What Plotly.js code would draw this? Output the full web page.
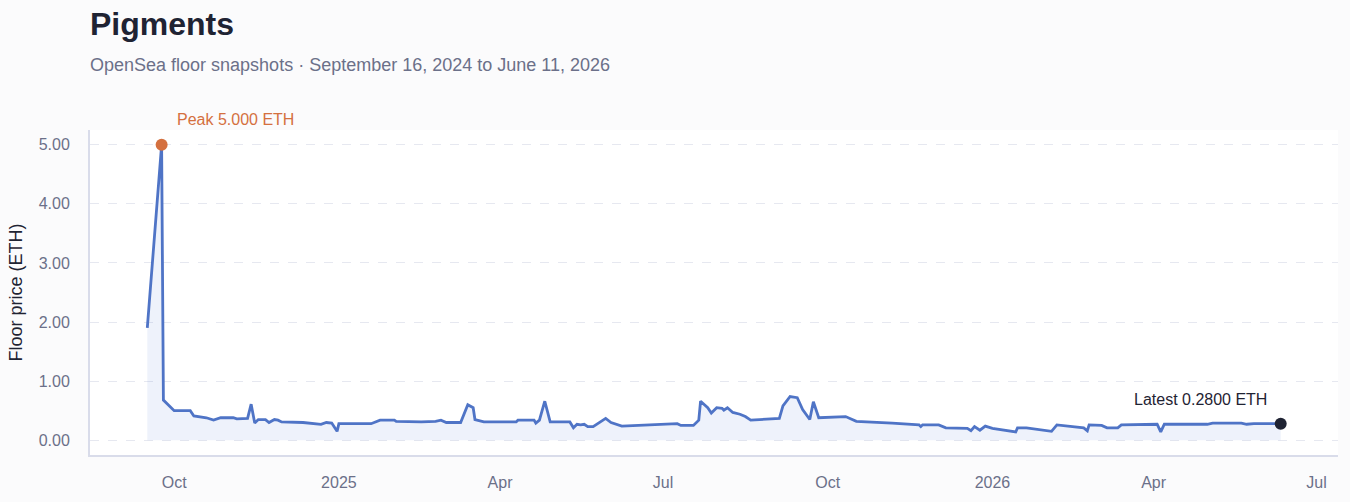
<!DOCTYPE html>
<html>
<head>
<meta charset="utf-8">
<script src="https://cdn.plot.ly/plotly-3.0.1.min.js"></script>
<style>html,body{margin:0;padding:0;background:#fbfbfc;}#chart{width:1350px;height:502px;}</style>
</head>
<body>
<div id="chart"></div>
<script>
const dates = [
"2024-09-16","2024-09-24","2024-09-25","2024-10-01","2024-10-10","2024-10-12","2024-10-19","2024-10-23","2024-10-27",
"2024-11-03","2024-11-05","2024-11-11","2024-11-13","2024-11-15","2024-11-17","2024-11-21","2024-11-23","2024-11-26",
"2024-11-28","2024-11-30","2024-12-12","2024-12-22","2024-12-25","2024-12-28","2024-12-31","2025-01-01",
"2025-01-19","2025-01-24","2025-02-01","2025-02-02","2025-02-16","2025-02-24","2025-02-27","2025-03-02","2025-03-10",
"2025-03-14","2025-03-17","2025-03-18","2025-03-23","2025-04-10","2025-04-11","2025-04-20","2025-04-21","2025-04-23",
"2025-04-26","2025-04-29","2025-05-10","2025-05-12","2025-05-14","2025-05-16","2025-05-18","2025-05-20","2025-05-23",
"2025-05-30","2025-06-02","2025-06-08","2025-07-09","2025-07-11","2025-07-18","2025-07-21","2025-07-22","2025-07-26",
"2025-07-28","2025-07-31","2025-08-03","2025-08-04","2025-08-06","2025-08-09","2025-08-13","2025-08-16","2025-08-19",
"2025-09-04","2025-09-06","2025-09-10","2025-09-14","2025-09-17","2025-09-21","2025-09-23","2025-09-26","2025-10-11",
"2025-10-17","2025-10-28","2025-11-06","2025-11-21","2025-11-22","2025-11-23","2025-12-02","2025-12-06","2025-12-18",
"2025-12-20","2025-12-22","2025-12-25","2025-12-28","2026-01-01","2026-01-08","2026-01-14","2026-01-15","2026-01-20",
"2026-02-03","2026-02-06","2026-02-21","2026-02-23","2026-02-24","2026-03-03","2026-03-06","2026-03-12","2026-03-14",
"2026-04-03","2026-04-05","2026-04-07","2026-05-01","2026-05-04","2026-05-20","2026-05-23","2026-05-27","2026-06-11"
];
const floorPrices = [
1.90,5.00,0.68,0.50,0.50,0.41,0.38,0.34,0.38,
0.38,0.36,0.37,0.61,0.29,0.35,0.35,0.30,0.35,
0.34,0.31,0.30,0.27,0.30,0.29,0.15,0.28,
0.28,0.34,0.34,0.32,0.31,0.32,0.34,0.30,0.30,
0.60,0.55,0.35,0.31,0.31,0.34,0.34,0.29,0.34,
0.66,0.31,0.31,0.21,0.27,0.26,0.27,0.23,0.23,
0.37,0.30,0.24,0.28,0.25,0.25,0.34,0.66,0.55,
0.46,0.55,0.54,0.51,0.55,0.47,0.44,0.40,0.34,
0.37,0.58,0.74,0.72,0.52,0.35,0.65,0.38,0.40,
0.32,0.31,0.29,0.26,0.23,0.26,0.26,0.21,0.20,
0.16,0.23,0.17,0.24,0.20,0.17,0.14,0.21,0.21,
0.15,0.26,0.21,0.16,0.26,0.25,0.21,0.21,0.26,
0.27,0.14,0.27,0.27,0.29,0.29,0.27,0.28,0.28
];
const peakDate = "2024-09-24", peakValue = 5.0;
const latestDate = "2026-06-11", latestValue = 0.28;
const yTicks = [0,1,2,3,4,5];
const xTickVals = ['2024-10-01','2025-01-01','2025-04-01','2025-07-01','2025-10-01','2026-01-01','2026-04-01','2026-07-01'];
const xTickText = ['Oct','2025','Apr','Jul','Oct','2026','Apr','Jul'];

const traces = [
  {x: dates, y: floorPrices, type: 'scatter', mode: 'lines', fill: 'tozeroy',
   fillcolor: 'rgba(90,125,215,0.10)', line: {color: '#4f74c6', width: 2.8}, showlegend: false},
  {x: [peakDate], y: [peakValue], type: 'scatter', mode: 'markers',
   marker: {color: '#d4703f', size: 12}, showlegend: false},
  {x: [latestDate], y: [latestValue], type: 'scatter', mode: 'markers',
   marker: {color: '#1f2333', size: 12}, showlegend: false}
];

const layout = {
  width: 1350, height: 502,
  paper_bgcolor: '#fbfbfc', plot_bgcolor: '#ffffff',
  margin: {l: 90, r: 12, t: 130, b: 47},
  font: {family: 'Liberation Sans, Arial, sans-serif', color: '#6b7089'},
  title: {text: '<b>Pigments</b>', x: 90/1350, xref: 'container', xanchor: 'left',
          y: 1 - 24/502, yref: 'container', yanchor: 'middle',
          font: {size: 32, color: '#1f2333', family: 'Liberation Sans, Arial, sans-serif'}},
  xaxis: {
    type: 'date', range: ['2024-08-15', '2026-07-13'],
    tickvals: xTickVals, ticktext: xTickText,
    showgrid: false, zeroline: false,
    showline: true, linecolor: '#d9dcea', linewidth: 2,
    ticks: '', ticklabelstandoff: 12, tickfont: {size: 16, color: '#6b7089'}
  },
  yaxis: {
    range: [-0.25, 5.25], tickvals: yTicks, tickformat: '.2f',
    showgrid: true, gridcolor: '#e6e8f0', griddash: 'dash', gridwidth: 1,
    zeroline: false, showline: true, linecolor: '#d9dcea', linewidth: 2,
    ticks: '', ticklabelstandoff: 15, tickfont: {size: 16, color: '#6b7089'},
    title: {text: 'Floor price (ETH)', font: {size: 18, color: '#1f2333'}, standoff: 11}
  },
  annotations: [
    {xref: 'paper', yref: 'paper', x: 0, y: 1, xshift: -2, yshift: 65, xanchor: 'left', yanchor: 'middle',
     text: 'OpenSea floor snapshots · September 16, 2024 to June 11, 2026', showarrow: false,
     font: {size: 18, color: '#6b7089'}},
    {x: peakDate, y: peakValue, xref: 'x', yref: 'y', text: 'Peak 5.000 ETH', showarrow: false,
     xanchor: 'left', yanchor: 'middle', xshift: 13, yshift: 25, font: {size: 16, color: '#d4703f'}},
    {x: latestDate, y: latestValue, xref: 'x', yref: 'y', text: 'Latest 0.2800 ETH', showarrow: false,
     xanchor: 'right', yanchor: 'middle', xshift: -12, yshift: 24, font: {size: 16, color: '#1f2333'}}
  ]
};

Plotly.newPlot('chart', traces, layout, {displayModeBar: false, staticPlot: true});
</script>
</body>
</html>
